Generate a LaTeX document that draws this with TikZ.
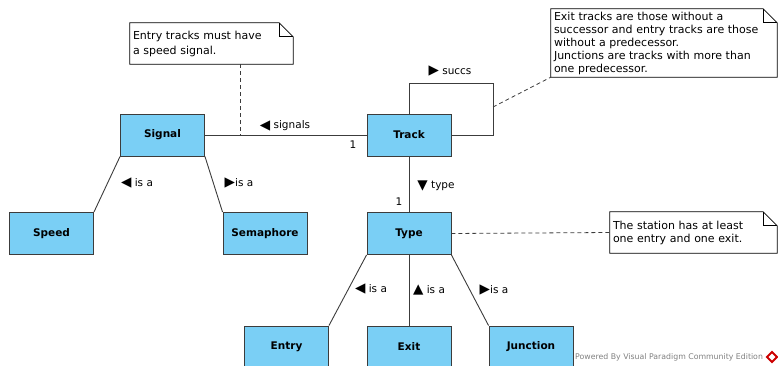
\documentclass[tikz,border=0pt]{standalone}
\usepackage{fontspec}
\setmainfont{DejaVu Sans}
\usepackage{tikz}
\usepackage{xcolor}
\usetikzlibrary{positioning}
\definecolor{vpblue}{RGB}{122,207,245}
\definecolor{vpline}{RGB}{60,60,60}
\newcommand\dirmark[1]{{\fontsize{13.5}{12}\selectfont\raisebox{-0.5pt}{#1}}}

\begin{document}
\begin{tikzpicture}[x=1pt, y=-1pt,
        cls/.style={rectangle, draw=vpline, fill=vpblue, line width=0.9pt, minimum width=84pt, minimum height=42pt, font=\bfseries\fontsize{10.5}{12}\selectfont},
        note/.style={rectangle, fill=white, align=left, inner xsep=3pt, inner ysep=0pt},
        notebox/.style={draw=black, line width=0.8pt},
        lbl/.style={font=\fontsize{10.5}{12}\selectfont, inner sep=1pt},
        assoc/.style={draw=vpline, line width=0.9pt},
        anchorline/.style={draw=vpline, line width=0.8pt, dash pattern=on 4pt off 3pt}
    ]
        \useasboundingbox (0,0) rectangle (778,366);

        % Classes
        \node[cls] (signal) at (162.5,135) {Signal};
        \node[cls] (track) at (409,135) {Track};
        \node[cls] (speed) at (51.5,233.5) {Speed};
        \node[cls] (semaphore) at (265,233.5) {Semaphore};
        \node[cls] (type) at (409,233.5) {Type};
        \node[cls] (entry) at (286.5,347) {Entry};
        \node[cls] (exit) at (409,347) {Exit};
        \node[cls] (junction) at (531,347) {Junction};

        % Notes
        \node[note, text width=157pt, minimum height=41pt, font=\fontsize{11}{15}\selectfont] (note1) at (211.5,43.5)
            {Entry tracks must have\\a speed signal.};
        \node[note, text width=220pt, minimum height=68pt, font=\fontsize{11}{13}\selectfont] (note2) at (664,43)
            {Exit tracks are those without a\\successor and entry tracks are those\\without a predecessor.\\Junctions are tracks with more than\\one predecessor.};
        \node[note, text width=161pt, minimum height=41pt, font=\fontsize{11}{13}\selectfont] (note3) at (693.5,232.5)
            {The station has at least\\one entry and one exit.};
        \foreach \n in {note1, note2, note3} {
            \draw[notebox] (\n.south west) -- (\n.north west) -- ([xshift=-14pt]\n.north east)
                -- ([yshift=-14pt]\n.north east) -- (\n.south east) -- cycle;
            \draw[notebox] ([xshift=-14pt]\n.north east) |- ([yshift=-14pt]\n.north east);
        }

        % Associations
        \draw[assoc] (signal.east) -- (track.west);
        \coordinate (succcorner) at (493,83);
        \draw[assoc] (track.north) |- (succcorner) |- (track.east);
        \draw[assoc] (track.south) -- (type.north);

        % Generalisations
        \draw[assoc] (signal.south west) -- (speed.north east);
        \draw[assoc] (signal.south east) -- (semaphore.north west);
        \draw[assoc] (type.south west) -- (entry.north east);
        \draw[assoc] (type.south) -- (exit.north);
        \draw[assoc] (type.south east) -- (junction.north west);

        % Note anchors
        \coordinate (sigtap) at (240,135);
        \draw[anchorline] (note1.south -| sigtap) -- (sigtap);
        \coordinate (succtap) at (493,107);
        \draw[anchorline] (succtap) -- (note2.south west);
        \draw[anchorline] (type.east) -- (note3.west);

        % Labels
        \node[lbl] (lsignals) at (285,126) {\dirmark{◀} signals};
        \node[lbl] (mtrack) at (353,145) {1};
        \node[lbl] (lsuccs) at (450,71) {\dirmark{▶} succs};
        \node[lbl] (ltype) at (436,186) {\dirmark{▼} type};
        \node[lbl] (mtype) at (399,202) {1};
        \node[lbl] (lspeed) at (137,183) {\dirmark{◀} is a};
        \node[lbl] (lsema) at (239,183) {\dirmark{▶}is a};
        \node[lbl] (lentry) at (371,289) {\dirmark{◀} is a};
        \node[lbl] (lexit) at (429,290) {\dirmark{▲} is a};
        \node[lbl] (ljunction) at (494,290) {\dirmark{▶}is a};

        % Footer
        \node[font=\fontsize{7.8}{9}\selectfont, text=gray, anchor=west, inner sep=0pt] (vpcredit) at (575,357)
            {Powered By Visual Paradigm Community Edition};
        \node[draw=red!80!black, line width=2pt, rotate=45, minimum size=7pt, inner sep=0pt] (vplogo) at (772,357) {};
    \end{tikzpicture}
\end{document}
